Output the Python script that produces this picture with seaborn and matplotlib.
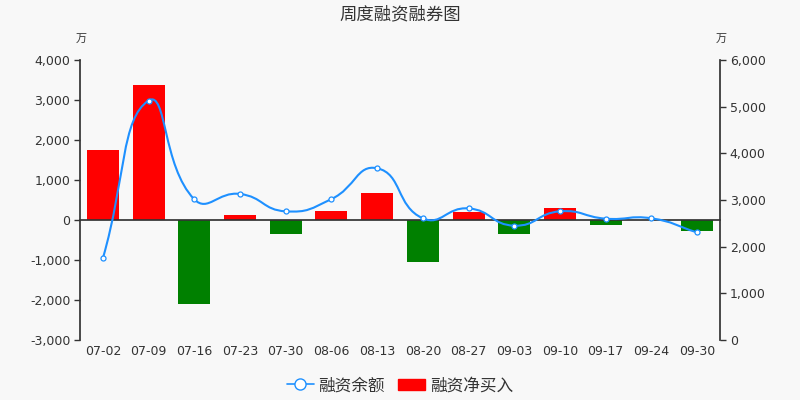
import numpy as np
import pandas as pd
import matplotlib
matplotlib.use("Agg")
import matplotlib.pyplot as plt
from matplotlib.path import Path
from matplotlib.patches import PathPatch, Patch
from matplotlib.lines import Line2D
import seaborn as sns

# Weekly margin-trading data (unit: 万)
dates = ["07-02", "07-09", "07-16", "07-23", "07-30", "08-06", "08-13",
         "08-20", "08-27", "09-03", "09-10", "09-17", "09-24", "09-30"]
net_buy = [1750, 3375, -2110, 125, -360, 230, 670,
           -1040, 210, -360, 310, -125, 0, -285]
balance = [1750, 5130, 3015, 3130, 2757, 3020, 3680,
           2607, 2820, 2450, 2757, 2600, 2607, 2305]

left_ticks = [-3000, -2000, -1000, 0, 1000, 2000, 3000, 4000]
right_ticks = [0, 1000, 2000, 3000, 4000, 5000, 6000]

RED = "#ff0000"
GREEN = "#008000"
BLUE = "#1e90ff"
TEXT = "#333333"
BG = "#f8f8f8"

sns.set_theme(style="white")
plt.rcParams["font.family"] = ["DejaVu Sans", "Noto Sans CJK SC"]

fig = plt.figure(figsize=(8, 4), dpi=100, facecolor=BG)
ax = fig.add_axes([0.1, 0.15, 0.8, 0.7])
ax.set_facecolor(BG)

df = pd.DataFrame({"date": dates, "net": net_buy, "bal": balance})
bar_colors = [RED if v >= 0 else GREEN for v in net_buy]
sns.barplot(data=df, x="date", y="net", hue="date", palette=bar_colors,
            legend=False, width=0.7, saturation=1, ax=ax, linewidth=0)

n = len(dates)
ax.set_xlim(-0.5, n - 0.5)
ax.set_ylim(-3000, 4000)
ax.set_yticks(left_ticks)
ax.set_yticklabels([f"{v:,}" for v in left_ticks], color=TEXT, fontsize=9)
ax.set_xlabel("")
ax.set_ylabel("")

# category axis drawn along the zero line, labels kept at the bottom
for side in ["top", "right"]:
    ax.spines[side].set_visible(False)
ax.spines["left"].set_color(TEXT)
ax.spines["bottom"].set_position(("data", 0))
ax.spines["bottom"].set_color(TEXT)
ax.set_xticks(range(n))
ax.set_xticklabels(dates, color=TEXT, fontsize=9)
ax.set_xticks(np.arange(-0.5, n, 1.0), minor=True)
ax.tick_params(axis="x", which="major", length=0, pad=90)
ax.tick_params(axis="x", which="minor", length=4, width=1, color=TEXT, direction="out")
ax.tick_params(axis="y", length=4, width=1, color=TEXT, left=True, pad=3)

ax2 = ax.twinx()
ax2.set_ylim(0, 6000)
ax2.set_yticks(right_ticks)
ax2.set_yticklabels([f"{v:,}" for v in right_ticks], color=TEXT, fontsize=9)
for side in ["top", "left", "bottom"]:
    ax2.spines[side].set_visible(False)
ax2.spines["right"].set_color(TEXT)
ax2.tick_params(axis="y", length=4, width=1, color=TEXT, right=True, pad=3)
ax2.grid(False)
ax.grid(False)

# smooth bezier curve through the balance points (computed in pixel space)
xs = np.arange(n, dtype=float)
pts = ax2.transData.transform(np.column_stack([xs, balance]))
smooth = 0.5
verts = [pts[0]]
codes = [Path.MOVETO]
for i in range(n - 1):
    p0 = pts[i]
    p1 = pts[i + 1]
    prev0 = pts[i - 1] if i > 0 else p0
    next0 = pts[i + 1]
    prev1 = pts[i]
    next1 = pts[i + 2] if i + 2 < n else p1
    v0 = (next0 - prev0) * smooth
    d0a = np.linalg.norm(p0 - prev0)
    d0b = np.linalg.norm(next0 - p0)
    c1 = p0 + v0 * (d0b / (d0a + d0b)) if (d0a + d0b) > 0 else p0
    v1 = (next1 - prev1) * smooth
    d1a = np.linalg.norm(p1 - prev1)
    d1b = np.linalg.norm(next1 - p1)
    c2 = p1 - v1 * (d1a / (d1a + d1b)) if (d1a + d1b) > 0 else p1
    verts += [c1, c2, p1]
    codes += [Path.CURVE4] * 3
verts_data = ax2.transData.inverted().transform(np.array(verts))
curve = PathPatch(Path(verts_data, codes), facecolor="none", edgecolor=BLUE,
                  linewidth=1.5, zorder=3)
ax2.add_patch(curve)
sns.scatterplot(data=df, x=xs, y="bal", ax=ax2, color="white", edgecolor=BLUE,
                s=13, linewidth=0.9, zorder=4)
ax2.set_xlabel("")
ax2.set_ylabel("")
ax2.set_xlim(-0.5, n - 0.5)

# unit labels
fig.text(0.094, 0.9025, "万", ha="left", va="center", fontsize=8, color=TEXT)
fig.text(0.894, 0.9025, "万", ha="left", va="center", fontsize=8, color=TEXT)

fig.text(0.5, 0.965, "周度融资融券图", ha="center", va="center",
         fontsize=12.5, color=TEXT)

handles = [
    Line2D([0], [0], color=BLUE, lw=1.2, marker="o", markersize=8,
           markerfacecolor="white", markeredgecolor=BLUE),
    Patch(facecolor=RED, edgecolor=RED),
]
fig.legend(handles, ["融资余额", "融资净买入"], loc="center", ncol=2,
           bbox_to_anchor=(0.5, 0.037), frameon=False, fontsize=12,
           labelcolor=TEXT, handlelength=1.6, handletextpad=0.3,
           columnspacing=0.8)

fig.savefig("out.png", dpi=100, facecolor=BG)
